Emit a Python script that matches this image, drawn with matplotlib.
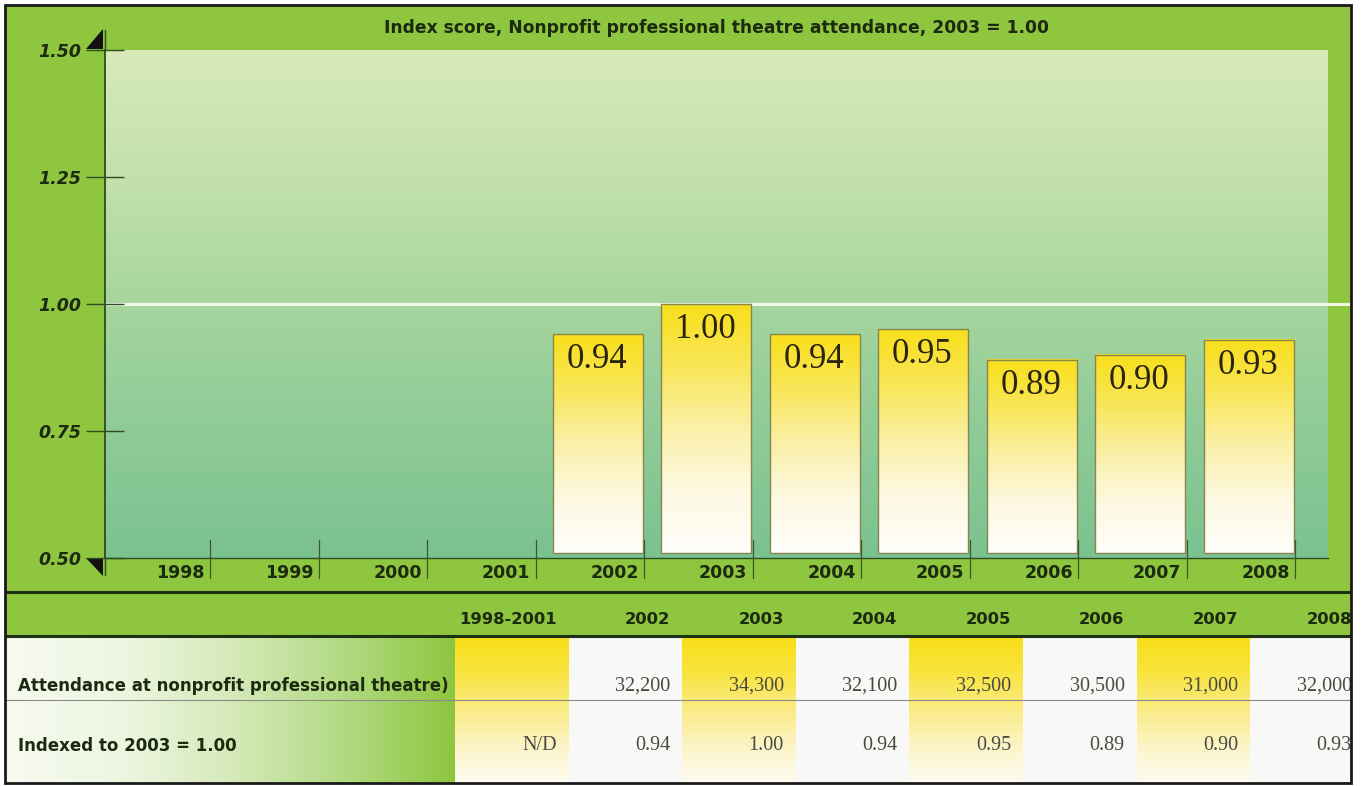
import numpy as np
import matplotlib
matplotlib.use("Agg")
import matplotlib.pyplot as plt
from matplotlib.colors import LinearSegmentedColormap
from matplotlib.patches import Rectangle, Polygon

# ---- data -------------------------------------------------------------
years = ["1998", "1999", "2000", "2001", "2002", "2003",
         "2004", "2005", "2006", "2007", "2008"]
index_values = [np.nan, np.nan, np.nan, np.nan,
                0.94, 1.00, 0.94, 0.95, 0.89, 0.90, 0.93]
y_ticks = [0.50, 0.75, 1.00, 1.25, 1.50]

table_columns = ["1998-2001", "2002", "2003", "2004", "2005", "2006", "2007", "2008"]
attendance = ["", "32,200", "34,300", "32,100", "32,500", "30,500", "31,000", "32,000"]
indexed = ["N/D", "0.94", "1.00", "0.94", "0.95", "0.89", "0.90", "0.93"]
row_labels = ["Attendance at nonprofit professional theatre)", "Indexed to 2003 = 1.00"]

title = "Index score, Nonprofit professional theatre attendance, 2003 = 1.00"

# ---- styling ------------------------------------------------------------
W, H = 1361, 786
GREEN = "#8ec63f"
DARK = "#1c2a10"
AXIS = "#2e4d22"
SANS = ["DejaVu Sans"]
SERIF = ["Liberation Serif", "DejaVu Serif"]
HEAVY = "bold"

plot_cmap = LinearSegmentedColormap.from_list(
    "plotbg", ["#d7eab7", "#c3e1ab", "#a6d59e", "#8fcb97", "#7bc291"])
bar_cmap = LinearSegmentedColormap.from_list(
    "bar", ["#f8df1c", "#f9e658", "#fbf0a8", "#fdf9e2", "#fffefb"])
col_cmap = LinearSegmentedColormap.from_list(
    "col", ["#f8df18", "#f9e440", "#faeb86", "#fcf4c6", "#fefcf2"])
left_cmap = LinearSegmentedColormap.from_list(
    "left", ["#f7faf0", "#eef6e2", "#d6eabb", "#b2da83", "#8ec63f"])

fig = plt.figure(figsize=(W / 100, H / 100), dpi=100)
fig.patch.set_facecolor("white")

# Background layer in pixel coordinates (y grows downward)
bg = fig.add_axes([0, 0, 1, 1], zorder=0)
bg.set_xlim(0, W)
bg.set_ylim(H, 0)
bg.axis("off")

# green frame of the chart and header band
bg.add_patch(Rectangle((5, 5), 1346, 632, facecolor=GREEN, edgecolor="none", zorder=0))

# table body
body_top, body_bot = 637, 783
grad_v = np.linspace(0, 1, 256).reshape(-1, 1)
grad_h = np.linspace(0, 1, 256).reshape(1, -1)
bg.imshow(grad_h, cmap=left_cmap, extent=(5, 455, body_bot, body_top),
          aspect="auto", origin="upper", zorder=1)
col_w = 113.6
col_x0 = 455
for i, name in enumerate(table_columns):
    x0 = col_x0 + i * col_w
    if i % 2 == 0:
        bg.imshow(grad_v, cmap=col_cmap, extent=(x0, x0 + col_w, body_bot, body_top),
                  aspect="auto", origin="upper", zorder=1)
    else:
        bg.add_patch(Rectangle((x0, body_top), col_w, body_bot - body_top,
                               facecolor="#f8f8f6", edgecolor="none", zorder=1))
    xr = x0 + col_w - 12
    bg.text(xr, 620, name, ha="right", va="center", fontsize=11.8,
            fontweight=HEAVY, family=SANS, color=DARK, zorder=3)
    bg.text(xr, 686, attendance[i], ha="right", va="center", fontsize=14.5,
            family=SERIF, color="#4a4a44", zorder=3)
    bg.text(xr, 746, indexed[i], ha="right", va="center", fontsize=14.5,
            family=SERIF, color="#4a4a44", zorder=3)
bg.set_xlim(0, W)
bg.set_ylim(H, 0)

for y, lab in zip([686, 746], row_labels):
    bg.text(18, y, lab, ha="left", va="center", fontsize=12, fontweight=HEAVY,
            family=SANS, color=DARK, zorder=3)

bg.plot([5, 1351], [700, 700], color="#8a8a86", lw=0.8, zorder=2)
for y in (592, 636):
    bg.plot([5, 1351], [y, y], color="#1c3212", lw=2.2, zorder=4,
            solid_capstyle="butt")

bg.text(717, 28, title, ha="center", va="center", fontsize=12.3,
        fontweight=HEAVY, family=SANS, color=DARK, zorder=3)

# ---- chart area -------------------------------------------------------
AX_L, AX_R, AX_T, AX_B = 105, 1328, 50, 558
SLOT = 108.5
x_lo = -0.5 + (AX_L - 101.5) / SLOT
x_hi = x_lo + (AX_R - AX_L) / SLOT
ax = fig.add_axes([AX_L / W, (H - AX_B) / H, (AX_R - AX_L) / W, (AX_B - AX_T) / H],
                  zorder=2)
ax.set_facecolor("none")
ax.set_xlim(x_lo, x_hi)
ax.set_ylim(0.5, 1.5)
px_y = 1.0 / (AX_B - AX_T)   # data units per pixel, vertical
px_x = 1.0 / SLOT            # data units per pixel, horizontal

ax.imshow(grad_v, cmap=plot_cmap, extent=(x_lo, x_hi, 0.5, 1.5),
          aspect="auto", origin="upper", zorder=0)

# reference line at 1.00, running through the right frame
ax.plot([x_lo, x_lo + (1350 - AX_L) * px_x], [1.0, 1.0], color="#f1f7e6",
        lw=2.2, zorder=1, clip_on=False, solid_capstyle="butt")

xs = np.arange(len(years))
base = 0.5 + 5 * px_y
vals = np.array(index_values)
heights = vals - base
bars = ax.bar(xs - 0.5 + 0.16, heights, width=0.83, bottom=base, align="edge",
              facecolor="none", edgecolor="#86864e", linewidth=1.0, zorder=3)
for rect, v in zip(bars, vals):
    if np.isnan(v):
        continue
    x0, w = rect.get_x(), rect.get_width()
    ax.imshow(grad_v, cmap=bar_cmap, extent=(x0, x0 + w, base, v),
              aspect="auto", origin="upper", zorder=2)
    ax.annotate(f"{v:.2f}", (x0 + w / 2, v), xytext=(-1, -9),
                textcoords="offset pixels", ha="center", va="top",
                fontsize=25, family=SERIF, color="#2a2410", zorder=4)
ax.set_xlim(x_lo, x_hi)
ax.set_ylim(0.5, 1.5)

# category separators and year labels
for i, yr in enumerate(years):
    xb = i + 0.5
    ax.plot([xb, xb], [0.5 + 18 * px_y, 0.5 - 20 * px_y], color="#3a5a2a",
            lw=0.9, clip_on=False, zorder=5)
    ax.text(xb - 5 * px_x, 0.5 - 15 * px_y, yr, ha="right", va="center",
            fontsize=12.5, fontweight=HEAVY, family=SANS, color=DARK,
            clip_on=False)

for s in ("top", "right"):
    ax.spines[s].set_visible(False)
ax.spines["left"].set_color(AXIS)
ax.spines["left"].set_linewidth(1.3)
ax.spines["bottom"].set_color(AXIS)
ax.spines["bottom"].set_linewidth(1.0)
ax.set_xticks([])
ax.set_yticks(y_ticks)
ax.set_yticklabels([f"{t:.2f}" for t in y_ticks])
ax.tick_params(axis="y", direction="inout", length=28, width=1.0,
               color=AXIS, pad=3)
for lab in ax.get_yticklabels():
    lab.set_fontstyle("italic")
    lab.set_fontweight(HEAVY)
    lab.set_fontsize(12.5)
    lab.set_family(SANS)
    lab.set_color(DARK)

# axis extension and arrowheads
bg.plot([AX_L, AX_L], [30, 575], color=AXIS, lw=1.0, zorder=1)
bg.add_patch(Polygon([(86, 49), (103, 49), (103, 29)], closed=True,
                     facecolor="#111", edgecolor="none", zorder=5))
bg.add_patch(Polygon([(86, 558), (103, 558), (103, 576)], closed=True,
                     facecolor="#111", edgecolor="none", zorder=5))

# outer border
over = fig.add_axes([0, 0, 1, 1], zorder=10)
over.set_xlim(0, W)
over.set_ylim(H, 0)
over.axis("off")
over.add_patch(Rectangle((1352, 0), 20, H, facecolor="white", edgecolor="none"))
over.add_patch(Rectangle((0, 784), W, 10, facecolor="white", edgecolor="none"))
over.add_patch(Rectangle((5, 5), 1346, 778, facecolor="none",
                         edgecolor="#1a1a1a", lw=2.0))

fig.savefig("out.png", dpi=100)
